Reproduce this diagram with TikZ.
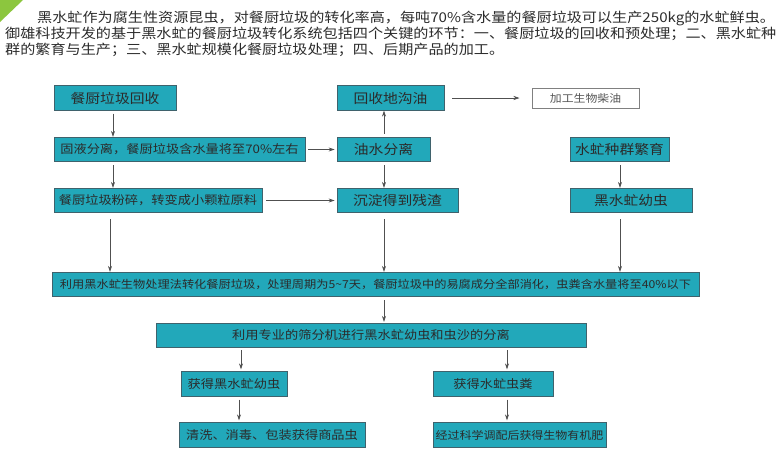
\documentclass[tikz,border=0pt]{standalone}
\usepackage{fontspec}
\setmainfont{Noto Sans CJK SC}[FakeStretch=1.12]
\usetikzlibrary{arrows.meta}
\definecolor{qing}{HTML}{22A8BA}
\definecolor{bian}{HTML}{3F626C}
\definecolor{wenzi}{HTML}{2B2B2B}
\definecolor{jiantou}{HTML}{505050}
\definecolor{lvse}{HTML}{8CC63E}
\newcommand{\setfs}[1]{\fontsize{#1}{#1}\selectfont}

\begin{document}
\begin{tikzpicture}[x=1pt,y=-1pt,
    kuang/.style={draw=bian,fill=qing,line width=0.8pt,inner sep=0pt,minimum height=24.5pt,text=wenzi,font=\setfs{11.8}},
    da/.style={font=\setfs{13.2}},
    baise/.style={draw=gray,fill=white,line width=1pt,inner sep=0pt,minimum height=20pt,text=wenzi!80,font=\setfs{10.6}},
    hang/.style={anchor=base west,inner sep=0pt,text=wenzi,font=\setfs{13.5}},
    jt/.style={-{Stealth[length=6pt,width=4pt]},draw=jiantou,line width=0.6pt}]
  \useasboundingbox (0,0) rectangle (784,456);
  \fill[lvse] (0,0) -- (23,0) -- (0,22) -- cycle;

  % header text
  \node[hang] (hdr1) at (37,22.5) {黑水虻作为腐生性资源昆虫，对餐厨垃圾的转化率高，每吨70\%含水量的餐厨垃圾可以生产250kg的水虻鲜虫。};
  \node[hang] (hdr2) at (5,38.5) {御雄科技开发的基于黑水虻的餐厨垃圾转化系统包括四个关键的环节：一、餐厨垃圾的回收和预处理；二、黑水虻种};
  \node[hang] (hdr3) at (5,54) {群的繁育与生产；三、黑水虻规模化餐厨垃圾处理；四、后期产品的加工。};

  % boxes
  \node[kuang,da,minimum width=122pt] (huishou) at (115,98) {餐厨垃圾回收};
  \node[kuang,minimum width=251pt] (guye) at (179.5,149.5) {固液分离，餐厨垃圾含水量将至70\%左右};
  \node[kuang,minimum width=208pt] (fensui) at (158,200.5) {餐厨垃圾粉碎，转变成小颗粒原料};
  \node[kuang,da,minimum width=107pt] (digouyou) at (390.5,98) {回收地沟油};
  \node[kuang,da,minimum width=93pt] (youshui) at (383.5,149.5) {油水分离};
  \node[kuang,da,minimum width=121pt] (canzha) at (397.5,200.5) {沉淀得到残渣};
  \node[baise,minimum width=107pt] (chaiyou) at (585.5,98) {加工生物柴油};
  \node[kuang,da,minimum width=99pt] (fanyu) at (619.5,149.5) {水虻种群繁育};
  \node[kuang,da,minimum width=122pt] (youchong) at (631,200.5) {黑水虻幼虫};
  \node[kuang,font=\setfs{10.9},minimum width=647pt] (chuli) at (375.5,284.5) {利用黑水虻生物处理法转化餐厨垃圾，处理周期为5\textasciitilde7天，餐厨垃圾中的易腐成分全部消化，虫粪含水量将至40\%以下};
  \node[kuang,minimum width=430pt] (shaifen) at (371,335.5) {利用专业的筛分机进行黑水虻幼虫和虫沙的分离};
  \node[kuang,minimum width=106pt] (huode) at (234,384) {获得黑水虻幼虫};
  \node[kuang,minimum width=120pt] (chongfen) at (493,384) {获得水虻虫粪};
  \node[kuang,minimum width=186pt] (shangpin) at (272,435) {清洗、消毒、包装获得商品虫};
  \node[kuang,font=\setfs{10.7},minimum width=173pt] (feiliao) at (519.5,435) {经过科学调配后获得生物有机肥};

  % arrow columns
  \coordinate (x1) at (113,0);
  \coordinate (x2) at (110,0);
  \coordinate (x3) at (384,0);
  \coordinate (x4) at (620,0);
  \coordinate (x5) at (241,0);
  \coordinate (x6) at (239,0);
  \coordinate (x7) at (507,0);

  \draw[jt,shorten <=3pt] (huishou.south -| x1) -- (guye.north -| x1);
  \draw[jt,shorten <=3pt] (guye.south -| x1) -- (fensui.north -| x1);
  \draw[jt,shorten <=6pt] (fensui.south -| x2) -- (chuli.north -| x2);
  \draw[jt,shorten <=3pt,shorten >=2pt] (guye.east) -- (youshui.west);
  \draw[jt,shorten <=4pt,shorten >=2pt] (fensui.east) -- (canzha.west);
  \draw[jt,shorten <=3pt] (youshui.north -| x3) -- (digouyou.south -| x3);
  \draw[jt,shorten <=3pt] (youshui.south -| x3) -- (canzha.north -| x3);
  \draw[jt,shorten <=6pt] (canzha.south -| x3) -- (chuli.north -| x3);
  \draw[jt,shorten <=8pt,shorten >=12pt] (digouyou.east) -- (chaiyou.west);
  \draw[jt,shorten <=3pt] (fanyu.south -| x4) -- (youchong.north -| x4);
  \draw[jt,shorten <=6pt] (youchong.south -| x4) -- (chuli.north -| x4);
  \draw[jt,shorten <=3pt,shorten >=1pt] (chuli.south -| x3) -- (shaifen.north -| x3);
  \draw[jt,shorten <=2pt,shorten >=2pt] (shaifen.south -| x5) -- (huode.north -| x5);
  \draw[jt,shorten <=2pt,shorten >=2pt] (shaifen.south -| x7) -- (chongfen.north -| x7);
  \draw[jt,shorten <=3pt,shorten >=2pt] (huode.south -| x6) -- (shangpin.north -| x6);
  \draw[jt,shorten <=3pt,shorten >=2pt] (chongfen.south -| x7) -- (feiliao.north -| x7);
\end{tikzpicture}
\end{document}
